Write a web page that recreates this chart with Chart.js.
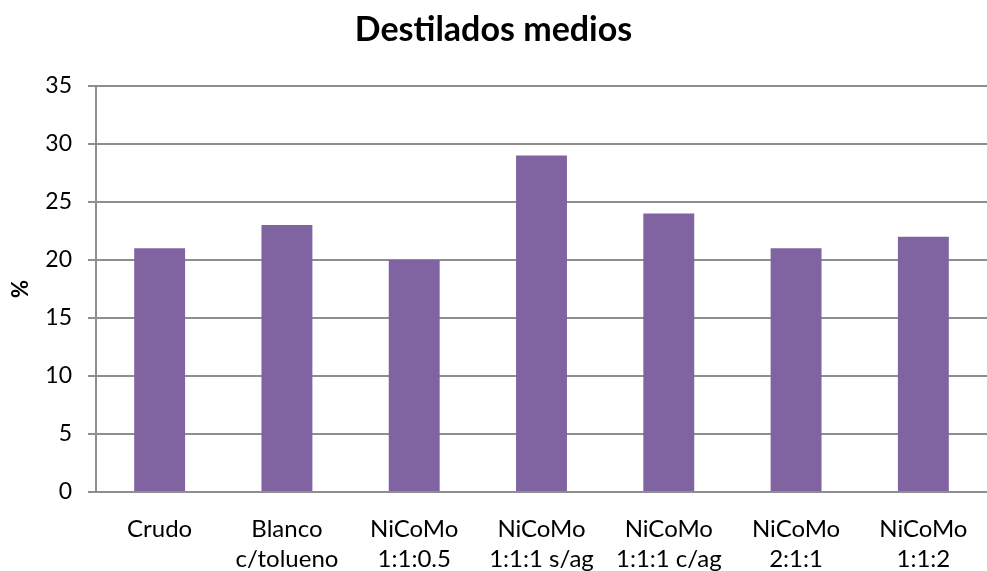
<!DOCTYPE html>
<html>
<head>
<meta charset="utf-8">
<script src="https://cdn.jsdelivr.net/npm/chart.js@4.4.0/dist/chart.umd.min.js"></script>
<style>
  html, body { margin: 0; padding: 0; background: #fff; }
  #wrap { width: 987px; height: 571px; }
</style>
</head>
<body>
<div id="wrap"><canvas id="chartCanvas" width="987" height="571"></canvas></div>
<script>
const categories = [
    ['Crudo'],
    ['Blanco', 'c/tolueno'],
    ['NiCoMo', '1:1:0.5'],
    ['NiCoMo', '1:1:1 s/ag'],
    ['NiCoMo', '1:1:1 c/ag'],
    ['NiCoMo', '2:1:1'],
    ['NiCoMo', '1:1:2']
];
const values = [21, 23, 20, 29, 24, 21, 22];
const yTicks = [0, 5, 10, 15, 20, 25, 30, 35];

const fontFamily = 'Lato, "Open Sans", sans-serif';
const axisGray = '#8e8e8e';

const ctx = document.getElementById('chartCanvas').getContext('2d');
const chart = new Chart(ctx, {
    type: 'bar',
    data: {
        labels: categories,
        datasets: [{
            label: 'Destilados medios',
            data: values,
            backgroundColor: '#8064A2',
            borderWidth: 0,
            categoryPercentage: 1,
            barPercentage: 0.4
        }]
    },
    options: {
        responsive: false,
        animation: false,
        layout: { padding: { left: 0, right: 0, top: 0, bottom: 0 } },
        plugins: {
            legend: { display: false },
            tooltip: { enabled: false },
            title: {
                display: true,
                text: 'Destilados medios',
                color: '#000',
                font: { family: fontFamily, size: 34, weight: 'bold' },
                padding: { top: 10, bottom: 35 }
            }
        },
        scales: {
            x: {
                grid: { display: false },
                border: { display: true, color: axisGray, width: 2 },
                ticks: {
                    color: '#000',
                    font: { family: fontFamily, size: 24, lineHeight: 1.25 },
                    padding: 14,
                    maxRotation: 0,
                    autoSkip: false
                },
                afterFit: scale => { scale.height = 79; }
            },
            y: {
                min: 0,
                max: 35,
                afterBuildTicks: scale => { scale.ticks = yTicks.map(v => ({ value: v })); },
                grid: {
                    color: axisGray,
                    lineWidth: 2,
                    tickLength: 8,
                    drawTicks: true
                },
                border: { display: true, color: axisGray, width: 2 },
                ticks: {
                    color: '#000',
                    font: { family: fontFamily, size: 23 },
                    padding: 16
                },
                title: {
                    display: true,
                    text: '%',
                    color: '#000',
                    font: { family: fontFamily, size: 22, weight: 'bold' },
                    padding: { top: 8, bottom: 0 }
                },
                afterFit: scale => { scale.width = 96; }
            }
        }
    }
});
</script>
</body>
</html>
